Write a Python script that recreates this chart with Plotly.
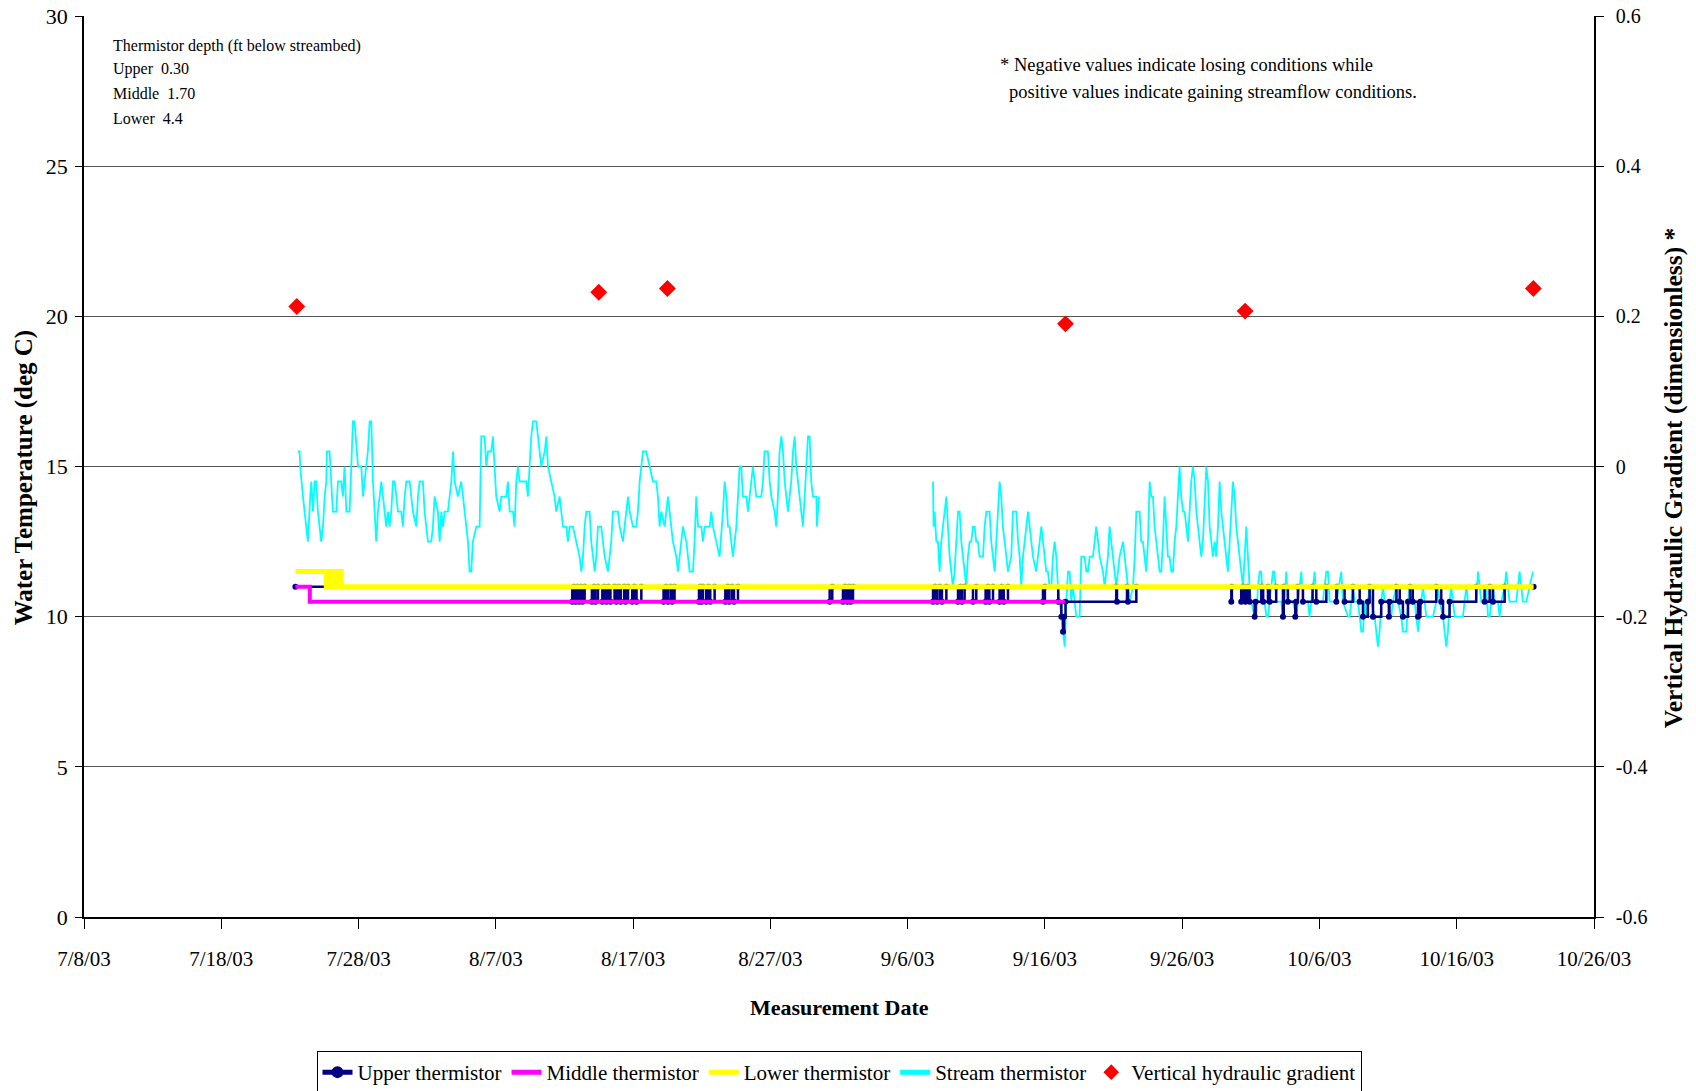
import pandas as pd
import plotly.graph_objects as go

BASE = pd.Timestamp("2003-07-08")

# ---- data (x = days after 7/8/03, y = deg C) ----
stream_part1 = [(15.58,15.5),(15.71,15.5),(15.75,15),(15.83,14.5),(15.95,14),(16.07,13.5),(16.19,13),(16.31,12.5),(16.48,14),(16.56,14.5),(16.68,13.5),(16.80,14.5),(16.92,14.5),(17.04,13.5),(17.16,13),(17.28,12.5),(17.41,13),(17.53,14),(17.65,14.5),(17.70,15.5),(17.89,15.5),(18.01,14.5),(18.13,13.5),(18.38,13.5),(18.50,14.5),(18.74,14.5),(18.86,14),(18.98,15),(19.11,13.5),(19.35,13.5),(19.47,15),(19.59,16.5),(19.71,16.5),(19.96,15),(20.20,15),(20.32,14),(20.44,14.5),(20.56,15),(20.68,15.5),(20.81,16.5),(20.93,16.5),(21.05,14.5),(21.17,13.5),(21.29,12.5),(21.41,13.5),(21.53,14),(21.66,14.5),(21.90,13.5),(22.02,13),(22.14,13.5),(22.26,13),(22.38,13.5),(22.51,14.5),(22.63,14.5),(22.87,13.5),(23.11,13.5),(23.23,13),(23.36,14),(23.48,14.5),(23.72,14.5),(23.84,14),(23.96,13.5),(24.21,13),(24.33,14),(24.45,14.5),(24.69,14.5),(24.81,13.5),(25.06,12.5),(25.30,12.5),(25.42,13),(25.54,14),(25.78,13.5),(25.91,12.5),(26.03,13.5),(26.15,13),(26.27,13.5),(26.51,13.5),(26.63,14),(26.76,14.5),(26.88,15.5),(27.00,14.5),(27.24,14),(27.48,14.5),(27.61,14),(27.85,13),(27.97,12.5),(28.09,11.5),(28.21,11.5),(28.33,12.5),(28.58,13),(28.82,13),(28.94,16),(29.18,16),(29.31,15),(29.43,15.5),(29.67,15.5),(29.79,16),(29.91,15),(30.03,14),(30.28,13.5),(30.40,14),(30.76,14),(30.88,14.5),(31.01,13.5),(31.25,13.5),(31.37,13),(31.49,14.5),(31.61,15),(31.73,14.5),(32.22,14.5),(32.34,14),(32.46,15),(32.58,16),(32.71,16.5),(32.95,16.5),(33.07,16),(33.31,15),(33.56,15.5),(33.68,16),(33.80,15),(34.04,14.5),(34.28,14),(34.40,13.5),(34.65,14),(34.89,13),(35.13,13),(35.25,12.5),(35.38,13),(35.62,13),(35.86,12.5),(36.10,12),(36.23,11.5),(36.35,12),(36.47,13),(36.59,13.5),(36.83,13.5),(36.95,12.5),(37.08,12),(37.20,11.5),(37.32,12),(37.44,13),(37.68,13),(37.80,12.5),(37.93,12),(38.17,11.5),(38.41,12.5),(38.53,13.5),(38.90,13.5),(39.02,13),(39.26,12.5),(39.38,13),(39.63,14),(39.75,13.5),(39.99,13),(40.23,13),(40.35,13.5),(40.48,14.5),(40.60,15),(40.72,15.5),(40.96,15.5),(41.20,15),(41.45,14.5),(41.69,14.5),(41.81,14),(41.93,13),(42.05,13.5),(42.30,13),(42.42,13.5),(42.54,14),(42.66,13.5),(42.78,13),(42.90,12.5),(43.15,12),(43.27,11.5),(43.39,12),(43.51,12.5),(43.63,13),(43.88,12.5),(44.00,12),(44.12,11.5),(44.36,11.5),(44.48,12.5),(44.60,14),(44.73,13),(44.97,13),(45.09,12.5),(45.21,13),(45.58,13),(45.70,13.5),(45.82,13),(46.06,12.5),(46.30,12),(46.55,13.5),(46.67,14.5),(46.79,14),(46.91,13),(47.03,13),(47.15,12.5),(47.27,12),(47.40,12.5),(47.52,13),(47.64,14),(47.76,15),(47.88,15),(48.00,14),(48.25,14),(48.37,13.5),(48.49,14),(48.61,14.5),(48.73,15),(48.85,14.5),(48.97,14),(49.34,14),(49.46,14.5),(49.58,15.5),(49.82,15.5),(49.95,14.5),(50.07,14),(50.31,13.5),(50.43,13),(50.55,14),(50.67,15.5),(50.80,16),(50.92,15.5),(51.04,14.5),(51.16,14),(51.28,13.5),(51.40,14),(51.52,14.5),(51.65,15.5),(51.77,16),(51.89,15),(52.13,14),(52.25,13.5),(52.37,13),(52.50,14),(52.62,15),(52.74,16),(52.86,16),(52.98,14.5),(53.10,14),(53.35,14),(53.39,13),(53.47,13.5),(53.54,14)]

stream_part2 = [(61.85,14.5),(61.89,13),(61.97,13.5),(62.09,12.5),(62.21,12.5),(62.33,11.5),(62.45,12.5),(62.57,13),(62.69,13.5),(62.82,14),(62.94,13),(63.06,12),(63.18,11.5),(63.30,11),(63.42,11.5),(63.54,12.5),(63.67,13.5),(63.79,13.5),(63.91,12.5),(64.03,12),(64.15,11.5),(64.27,11),(64.39,12),(64.52,12.5),(64.64,12.5),(64.76,13),(64.88,13),(65.00,12.5),(65.12,12.5),(65.24,12),(65.49,12),(65.61,13),(65.73,13.5),(65.97,13.5),(66.09,12.5),(66.22,12),(66.34,11.5),(66.46,12.5),(66.58,13.5),(66.70,14.5),(66.82,14),(66.94,13),(67.07,12.5),(67.19,12),(67.31,11.5),(67.55,12),(67.67,13.5),(67.92,13.5),(68.04,12.5),(68.16,12),(68.28,11),(68.40,12),(68.52,12.5),(68.64,13),(68.77,13.5),(68.89,13),(69.01,12.5),(69.13,12),(69.37,11.5),(69.49,12),(69.62,12.5),(69.74,13),(69.86,12.5),(69.98,12),(70.10,11.5),(70.22,11.5),(70.34,11),(70.47,11),(70.59,12),(70.71,12.5),(70.83,12),(70.95,11),(71.07,10.5),(71.19,10),(71.32,9.5),(71.44,9),(71.56,10.5),(71.68,11.5),(71.80,11.5),(71.92,10.5),(72.04,11),(72.29,10),(72.53,10),(72.65,12),(72.89,12),(73.02,11.5),(73.14,11.5),(73.26,12),(73.50,12),(73.62,12.5),(73.74,13),(73.87,12.5),(73.99,12),(74.23,11.5),(74.35,11),(74.47,11.5),(74.59,12),(74.71,13),(74.84,12.5),(74.96,12),(75.08,11.5),(75.20,11),(75.32,11.5),(75.44,12),(75.69,12.5),(75.81,12),(75.93,11.5),(76.05,11),(76.17,10.5),(76.42,11),(76.54,12),(76.66,13.5),(76.90,13.5),(77.02,12.5),(77.14,12.5),(77.26,12),(77.38,11.5),(77.51,12.5),(77.63,14.5),(77.75,14),(77.87,14),(77.99,13),(78.23,12),(78.36,11.5),(78.48,11.5),(78.60,12.5),(78.72,14),(78.84,13),(78.96,12),(79.08,12),(79.21,11.5),(79.33,11.5),(79.45,12.5),(79.57,13),(79.69,14),(79.81,15),(79.93,14),(80.06,13.5),(80.18,13.5),(80.30,13),(80.42,12.5),(80.54,13.5),(80.66,14.5),(80.78,15),(80.91,14.5),(81.03,13.5),(81.15,13),(81.27,12.5),(81.39,12),(81.51,12.5),(81.63,13.5),(81.76,15),(81.88,14.5),(82.00,13),(82.12,12.5),(82.24,12),(82.36,12.5),(82.48,12),(82.61,13),(82.73,14.5),(82.85,13.5),(82.97,13),(83.09,12.5),(83.21,12),(83.33,11.5),(83.46,12.5),(83.58,13.5),(83.70,14.5),(83.82,14),(83.94,13),(84.06,12.5),(84.18,12),(84.31,11.5),(84.43,11),(84.55,12),(84.67,13),(84.79,12),(84.91,11),(85.03,10.5),(85.28,10),(85.40,10),(85.52,11),(85.64,11.5),(85.76,11.5),(85.88,10.5),(86.00,10.5),(86.13,10),(86.25,10),(86.37,10.5),(86.49,11),(86.61,11.5),(86.73,11.5),(86.85,10.5),(87.22,10.5),(87.34,10),(87.46,10.5),(87.58,11.5),(87.70,10.5),(88.07,10.5),(88.31,10),(88.43,10.5),(88.68,11.5),(88.80,10.5),(89.16,10.5),(89.28,10),(89.40,10.5),(89.65,11.5),(89.77,10.5),(90.25,10.5),(90.50,11.5),(90.62,11.5),(90.74,10.5),(91.23,10.5),(91.59,11.5),(91.71,10.5),(92.08,10),(92.20,10),(92.32,10.5),(92.44,11),(92.56,10.5),(92.80,10.5),(92.93,10),(93.05,9.5),(93.17,9.5),(93.29,10.5),(93.41,10),(93.53,10.5),(93.65,11),(93.78,10.5),(94.02,10),(94.14,9.5),(94.26,9),(94.38,9.5),(94.50,10.5),(94.63,11),(94.75,10.5),(94.99,10.5),(95.11,10),(95.23,10),(95.35,10.5),(95.60,11),(95.72,10.5),(95.96,10),(96.08,9.5),(96.33,9.5),(96.45,10.5),(96.57,11),(96.69,10.5),(96.93,10.5),(97.05,10),(97.18,9.5),(97.30,10),(97.42,10.5),(97.54,11),(97.66,10.5),(97.78,10),(98.27,10),(98.51,10.5),(98.63,11),(98.75,10.5),(99.00,10),(99.12,9.5),(99.24,9),(99.36,9.5),(99.48,10.5),(99.60,11),(99.72,10.5),(99.85,10),(100.45,10),(100.58,10.5),(100.70,11),(100.82,10.5),(101.42,10.5),(101.55,11.5),(101.67,11),(101.79,10.5),(102.03,10.5),(102.15,11),(102.28,10),(102.40,10),(102.52,10.5),(102.64,11),(102.76,10.5),(103.00,10.5),(103.13,10),(103.25,10.5),(103.49,11),(103.61,11.5),(103.73,11),(103.85,10.5),(104.34,10.5),(104.58,11.5),(104.70,11),(104.82,10.5),(105.07,10.5),(105.31,11),(105.55,11.5)]

upper_steps = [(15.4,11),
 (35.57,10.5),(35.7,11),(35.8,10.5),(35.95,11),(36.05,10.5),(36.2,11),(36.3,10.5),(36.47,11),
 (37.0,10.5),(37.15,11),(37.25,10.5),(37.44,11),
 (37.76,10.5),(37.9,11),(38.05,10.5),(38.2,11),(38.35,10.5),(38.65,11),
 (38.78,10.5),(38.95,11),(39.1,10.5),(39.35,11),(39.45,10.5),(39.63,11),
 (39.94,10.5),(40.1,11),(40.25,10.5),(40.6,11),
 (42.22,10.5),(42.4,11),(42.55,10.5),(42.75,11),(42.85,10.5),(43.02,11),
 (44.8,10.5),(44.89,11),(45.0,10.5),(45.09,11),(45.33,10.5),(45.5,11),(45.62,10.5),(45.94,11),
 (46.72,10.5),(46.9,11),(47.0,10.5),(47.2,11),(47.35,10.5),(47.64,11),
 (54.32,10.5),(54.51,11),
 (55.29,10.5),(55.45,11),(55.6,10.5),(55.75,11),(55.85,10.5),(56.02,11),
 (61.85,10.5),(62.0,11),(62.15,10.5),(62.35,11),(62.5,10.5),(62.82,11),
 (63.67,10.5),(63.85,11),(63.95,10.5),(64.15,11),
 (64.76,10.5),(65.0,11),
 (65.68,10.5),(65.85,11),(65.95,10.5),(66.22,11),
 (66.7,10.5),(66.85,11),(67.0,10.5),(67.31,11),
 (69.86,10.5),(70.0,11),
 (70.97,10.5),(71.2,10),(71.32,9.5),(71.4,10),(71.5,10.5),
 (75.2,11),(75.25,10.5),(75.98,11),(76.05,10.5),(76.66,11),
 (83.58,10.5),(83.62,11),
 (84.3,10.5),(84.45,11),(84.6,10.5),(84.75,11),(84.91,10.5),(85.28,10),(85.35,10.5),(85.76,11),(85.9,10.5),(86.25,11),
 (86.37,10.5),(86.85,11),(87.34,10),(87.4,11),
 (87.7,10.5),(88.24,10),(88.3,10.5),(88.43,11),
 (88.8,10.5),(89.5,11),
 (89.77,10.5),(90.5,11),
 (91.23,10.5),(91.27,11),
 (91.83,10.5),(92.44,11),
 (92.93,10.5),(93.17,10),(93.53,10.5),(93.65,11),
 (93.9,10),(94.5,10.5),(95.06,10),(95.1,10.5),(95.6,11),
 (95.85,10.5),(96.08,10),(96.45,10.5),(96.6,11),
 (96.8,10.5),(97.18,10),(97.35,10.5),(98.51,11),
 (98.87,10.5),(99.0,10),(99.48,10.5),(101.42,11),
 (102.03,10.5),(102.4,11),
 (102.64,10.5),(103.49,11),
 (105.6,11)]

middle_steps = [(15.4,11),(16.45,10.5),(71.45,10.5)]

lower_steps = [(15.4,11.5),(17.65,11),(17.75,11.5),(17.9,11),(18.0,11.5),(18.15,11),
               (18.3,11.5),(18.45,11),(18.55,11.5),(18.74,11),(105.6,11)]

gradient_dates = ["2003-07-23 12:00", "2003-08-14 12:00", "2003-08-19 12:00",
                  "2003-09-17 12:00", "2003-09-30 14:00", "2003-10-21 14:00"]
gradient_values = [0.213, 0.232, 0.237, 0.190, 0.207, 0.237]

x_tick_dates = ["2003-07-08", "2003-07-18", "2003-07-28", "2003-08-07", "2003-08-17", "2003-08-27",
                "2003-09-06", "2003-09-16", "2003-09-26", "2003-10-06", "2003-10-16", "2003-10-26"]
x_tick_labels = ["7/8/03", "7/18/03", "7/28/03", "8/7/03", "8/17/03", "8/27/03",
                 "9/6/03", "9/16/03", "9/26/03", "10/6/03", "10/16/03", "10/26/03"]
y_left_ticks = [0, 5, 10, 15, 20, 25, 30]
y_right_ticks = [-0.6, -0.4, -0.2, 0, 0.2, 0.4, 0.6]
y_right_labels = ["-0.6", "-0.4", "-0.2", "0", "0.2", "0.4", "0.6"]

depth_note = ["Thermistor depth (ft below streambed)", "Upper  0.30", "Middle  1.70", "Lower  4.4"]
sign_note = ["* Negative values indicate losing conditions while",
             "positive values indicate gaining streamflow conditions."]

FONT = "Liberation Serif"


def to_dates(days):
    return [BASE + pd.Timedelta(days=d) if d is not None else None for d in days]


def unzip(pairs):
    return [p[0] for p in pairs], [p[1] for p in pairs]


fig = go.Figure()

# stream (drawn first, underneath)
s1x, s1y = unzip(stream_part1)
s2x, s2y = unzip(stream_part2)
fig.add_trace(go.Scatter(
    x=to_dates(s1x + [None] + s2x), y=s1y + [None] + s2y,
    mode="lines", name="Stream thermistor", connectgaps=False,
    line=dict(color="#00FFFF", width=1.8), legendrank=4))

ux, uy = unzip(upper_steps)
fig.add_trace(go.Scatter(
    x=to_dates(ux), y=uy, mode="lines+markers", name="Upper thermistor",
    line=dict(color="#000080", width=2.5, shape="hv"),
    marker=dict(color="#000080", size=6, symbol="circle"), legendrank=1))

mx, my = unzip(middle_steps)
fig.add_trace(go.Scatter(
    x=to_dates(mx), y=my, mode="lines", name="Middle thermistor",
    line=dict(color="#FF00FF", width=4, shape="hv"), legendrank=2))

lx, ly = unzip(lower_steps)
fig.add_trace(go.Scatter(
    x=to_dates(lx), y=ly, mode="lines", name="Lower thermistor",
    line=dict(color="#FFFF00", width=5, shape="hv"), legendrank=3))

fig.add_trace(go.Scatter(
    x=pd.to_datetime(gradient_dates), y=gradient_values, yaxis="y2",
    mode="markers", name="Vertical hydraulic gradient",
    marker=dict(color="#FF0000", symbol="diamond", size=13), legendrank=5))

fig.update_layout(
    width=1696, height=1091,
    margin=dict(l=84, r=102, t=16, b=174, autoexpand=False),
    paper_bgcolor="white", plot_bgcolor="white",
    font=dict(family=FONT, color="black", size=20),
    showlegend=True,
    legend=dict(orientation="h", x=0.5, xanchor="center", y=-0.1487, yanchor="top",
                bordercolor="black", borderwidth=1, bgcolor="white",
                font=dict(family=FONT, size=21, color="black"),
                itemsizing="constant", tracegroupgap=0),
    xaxis=dict(type="date",
               range=[BASE, BASE + pd.Timedelta(days=110)],
               tickvals=pd.to_datetime(x_tick_dates), ticktext=x_tick_labels,
               ticks="outside", ticklen=10, tickcolor="black", tickwidth=1,
               showline=True, linecolor="black", linewidth=1.5,
               showgrid=False, zeroline=False,
               tickfont=dict(family=FONT, size=21, color="black"),
               ticklabelstandoff=12),
    yaxis=dict(range=[0, 30], tickvals=y_left_ticks,
               ticks="outside", ticklen=7, tickcolor="black",
               showline=True, linecolor="black", linewidth=1.5,
               showgrid=True, gridcolor="#555555", gridwidth=1, zeroline=False,
               tickfont=dict(family=FONT, size=22, color="black"),
               ticklabelstandoff=3),
    yaxis2=dict(range=[-0.6, 0.6], tickvals=y_right_ticks, ticktext=y_right_labels,
                overlaying="y", side="right",
                ticks="outside", ticklen=8, tickcolor="black",
                showline=True, linecolor="black", linewidth=1.5,
                showgrid=False, zeroline=False,
                tickfont=dict(family=FONT, size=20, color="black"),
                ticklabelstandoff=8),
)

anns = []
for i, (txt, yp) in enumerate(zip(depth_note, [0.967, 0.941, 0.914, 0.886])):
    anns.append(dict(text=txt, x=0.0179, y=yp, xref="paper", yref="paper",
                     xanchor="left", yanchor="middle", showarrow=False,
                     font=dict(family=FONT, size=16, color="black")))
anns.append(dict(text=sign_note[0], x=0.6053, y=0.9456, xref="paper", yref="paper",
                 xanchor="left", yanchor="middle", showarrow=False,
                 font=dict(family=FONT, size=18.5, color="black")))
anns.append(dict(text=sign_note[1], x=0.6113, y=0.9156, xref="paper", yref="paper",
                 xanchor="left", yanchor="middle", showarrow=False,
                 font=dict(family=FONT, size=18.5, color="black")))
anns.append(dict(text="<b>Measurement Date</b>", x=0.5, y=-0.0999, xref="paper", yref="paper",
                 xanchor="center", yanchor="middle", showarrow=False,
                 font=dict(family=FONT, size=22, color="black")))
anns.append(dict(text="<b>Water Temperature (deg C)</b>", x=-0.0397, y=0.488,
                 xref="paper", yref="paper", xanchor="center", yanchor="middle",
                 textangle=-90, showarrow=False,
                 font=dict(family=FONT, size=25, color="black")))
anns.append(dict(text="<b>Vertical Hydraulic Gradient (dimensionless) *</b>", x=1.0523, y=0.488,
                 xref="paper", yref="paper", xanchor="center", yanchor="middle",
                 textangle=-90, showarrow=False,
                 font=dict(family=FONT, size=25.5, color="black")))
fig.update_layout(annotations=anns)

fig.write_html("out.html")
